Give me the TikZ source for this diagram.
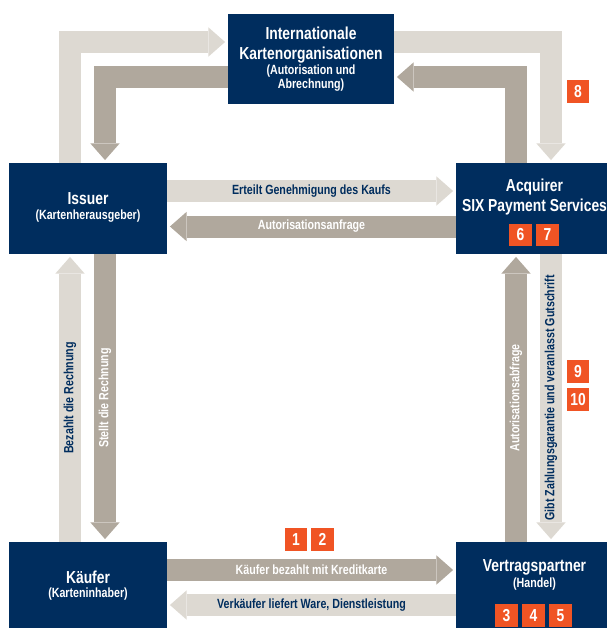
\documentclass[tikz,border=0pt]{standalone}
\usepackage{fontspec}
\setmainfont{Liberation Sans}[FakeStretch=0.8]
\usetikzlibrary{arrows.meta,calc}
\definecolor{navy}{RGB}{0,45,94}
\definecolor{paleflow}{RGB}{221,217,210}
\definecolor{darkflow}{RGB}{176,168,157}
\definecolor{signal}{RGB}{240,84,36}

\begin{document}
\begin{tikzpicture}[x=0.75pt,y=-0.75pt,
    box/.style={fill=navy,inner sep=0pt},
    boxtitle/.style={text=white,align=center,inner sep=0pt,font=\fontsize{13}{15}\selectfont\bfseries},
    boxsub/.style={text=white,align=center,inner sep=0pt,font=\fontsize{10}{10.5}\selectfont\bfseries},
    badge/.style={fill=signal,text=white,minimum size=17pt,inner sep=0pt,font=\fontsize{13}{13}\selectfont\bfseries},
    flow/.style={line width=16.5pt,-{Triangle[width=22pt,length=12.5pt,line width=0pt]},shorten >=2pt},
    pale/.style={flow,draw=paleflow},
    dark/.style={flow,draw=darkflow},
    palelabel/.style={text=navy,font=\fontsize{10}{11}\selectfont\bfseries},
    darklabel/.style={text=white,font=\fontsize{10}{11}\selectfont\bfseries}]
  \useasboundingbox (0,0) rectangle (607,628);
  \node[box,minimum width=124.5pt,minimum height=67.5pt] (karten) at (311,59) {};
  \node[box,minimum width=118.5pt,minimum height=68.25pt] (issuer) at (88,208.5) {};
  \node[box,minimum width=113.25pt,minimum height=68.25pt] (acquirer) at (531.5,208.5) {};
  \node[box,minimum width=118.5pt,minimum height=64.5pt] (kaeufer) at (88,585) {};
  \node[box,minimum width=113.25pt,minimum height=64.5pt] (vertrag) at (531.5,585) {};

  \node[boxtitle] (karten-title) at (311,45) {Internationale\\Kartenorganisationen};
  \node[boxsub] (karten-sub) at (311,78) {(Autorisation und\\Abrechnung)};
  \node[boxtitle] (issuer-title) at (88,199) {Issuer};
  \node[boxsub] (issuer-sub) at (88,216) {(Kartenherausgeber)};
  \node[boxtitle] (acquirer-title) at (534.5,197) {Acquirer\\SIX Payment Services};
  \node[boxtitle] (kaeufer-title) at (88,577) {Käufer};
  \node[boxsub] (kaeufer-sub) at (88,594) {(Karteninhaber)};
  \node[boxtitle] (vertrag-title) at (534.5,567) {Vertragspartner};
  \node[boxsub] (vertrag-sub) at (534.5,584) {(Handel)};

  \draw[pale] ($(issuer.north)+(-18,0)$) |- ($(karten.west)+(0,-17)$);
  \draw[dark] ($(karten.west)+(0,18)$) -| ($(issuer.north)+(17,0)$);
  \draw[pale] ($(karten.east)+(0,-17)$) -| ($(acquirer.north)+(19.5,0)$);
  \draw[dark] ($(acquirer.north)+(-15.5,0)$) |- ($(karten.east)+(0,18)$);

  \draw[pale] ($(issuer.east)+(0,-17.5)$) -- ($(acquirer.west)+(0,-17.5)$)
    node[midway,palelabel] {Erteilt Genehmigung des Kaufs};
  \draw[dark] ($(acquirer.west)+(0,18)$) -- ($(issuer.east)+(0,18)$)
    node[midway,darklabel] {Autorisationsanfrage};
  \draw[dark] ($(kaeufer.east)+(0,-15)$) -- ($(vertrag.west)+(0,-15)$)
    node[midway,darklabel] {Käufer bezahlt mit Kreditkarte};
  \draw[pale] ($(vertrag.west)+(0,20)$) -- ($(kaeufer.east)+(0,20)$)
    node[midway,palelabel] {Verkäufer liefert Ware, Dienstleistung};

  \draw[pale] ($(kaeufer.north)+(-18,0)$) -- ($(issuer.south)+(-18,0)$)
    node[midway,palelabel,rotate=90] {Bezahlt die Rechnung};
  \draw[dark] ($(issuer.south)+(17,0)$) -- ($(kaeufer.north)+(17,0)$)
    node[midway,darklabel,rotate=90] {Stellt die Rechnung};
  \draw[dark] ($(vertrag.north)+(-15.5,0)$) -- ($(acquirer.south)+(-15.5,0)$)
    node[midway,darklabel,rotate=90] {Autorisationsabfrage};
  \draw[pale] ($(acquirer.south)+(19.5,0)$) -- ($(vertrag.north)+(19.5,0)$)
    node[midway,palelabel,rotate=90] {Gibt Zahlungsgarantie und veranlasst Gutschrift};

  \node[badge] (b1) at (296,539.5) {1};
  \node[badge] (b2) at (322.5,539.5) {2};
  \node[badge] (b3) at (506.5,615.5) {3};
  \node[badge] (b4) at (533.5,615.5) {4};
  \node[badge] (b5) at (560.5,615.5) {5};
  \node[badge] (b6) at (520.5,235) {6};
  \node[badge] (b7) at (547.5,235) {7};
  \node[badge] (b8) at (578,91.5) {8};
  \node[badge] (b9) at (578,371.5) {9};
  \node[badge] (b10) at (578,399.5) {10};
\end{tikzpicture}
\end{document}
